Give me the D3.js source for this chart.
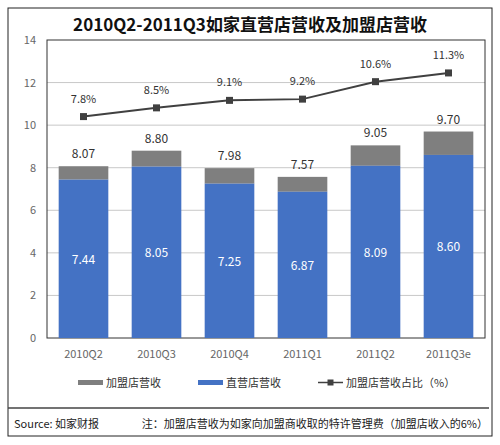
<!DOCTYPE html>
<html><head><meta charset="utf-8">
<script src="https://cdn.jsdelivr.net/npm/d3@7"></script>
<style>body{margin:0;background:#fff}</style>
</head><body><div id="canvas"></div>
<script>
"use strict"

let quarters = ["2010Q2","2010Q3","2010Q4","2011Q1","2011Q2","2011Q3e"];
let directRev = [7.44, 8.05, 7.25, 6.87, 8.09, 8.60];
let totalRev = [8.07, 8.80, 7.98, 7.57, 9.05, 9.70];
let franchiseShare = [7.8, 8.5, 9.1, 9.2, 10.6, 11.3];
let yTicks = [0, 2, 4, 6, 8, 10, 12, 14];

let font = "'Noto Sans CJK SC', 'DejaVu Sans', sans-serif";

let drawing = d3.select("#canvas").append("svg")
    .attr("width", 500).attr("height", 445)
    .style("font-family", font);

/* outer frame */
drawing.append("rect")
    .attr("x", 8).attr("y", 8).attr("width", 484).attr("height", 428)
    .attr("fill", "none").attr("stroke", "#222").attr("stroke-width", 1);

/* title */
drawing.append("text")
    .attr("x", 250).attr("y", 31).attr("text-anchor", "middle")
    .attr("font-size", 17).attr("font-weight", "bold").attr("fill", "#111")
    .text("2010Q2-2011Q3如家直营店营收及加盟店营收");

let x = d3.scaleBand().domain(quarters).range([47, 485]).paddingInner(0.32).paddingOuter(0.16);
let y = d3.scaleLinear().domain([0, 14]).range([338, 40]);
/* hidden secondary axis for the share line */
let y2 = d3.scaleLinear().domain([-9.95, 13.94]).range([338, 40]);

/* gridlines */
drawing.append("g").selectAll("line").data(yTicks.slice(1, -1)).join("line")
    .attr("x1", 47).attr("x2", 485)
    .attr("y1", d => y(d)).attr("y2", d => y(d))
    .attr("stroke", "#c8c8c8");

/* plot border */
drawing.append("rect")
    .attr("x", 47).attr("y", y(14)).attr("width", 438).attr("height", y(0) - y(14))
    .attr("fill", "none").attr("stroke", "#333");

/* y axis labels */
let yAxis = drawing.append("g").attr("transform", "translate(40,0)")
    .call(d3.axisLeft(y).tickValues(yTicks).tickSize(0).tickPadding(4));
yAxis.select(".domain").remove();
yAxis.selectAll("text").attr("font-size", 11).attr("fill", "#666").attr("font-family", font);

/* x axis labels */
let xAxis = drawing.append("g").attr("transform", "translate(0,346)")
    .call(d3.axisBottom(x).tickSize(0).tickPadding(4));
xAxis.select(".domain").remove();
xAxis.selectAll("text").attr("font-size", 11).attr("fill", "#666").attr("font-family", font);

/* franchise part (gray, top) */
drawing.append("g").selectAll("rect").data(quarters).join("rect")
    .attr("x", d => x(d)).attr("width", x.bandwidth())
    .attr("y", (d, i) => y(totalRev[i])).attr("height", (d, i) => y(directRev[i]) - y(totalRev[i]))
    .attr("fill", "#7f7f7f");

/* direct part (blue) */
drawing.append("g").selectAll("rect").data(quarters).join("rect")
    .attr("x", d => x(d)).attr("width", x.bandwidth())
    .attr("y", (d, i) => y(directRev[i])).attr("height", (d, i) => y(0) - y(directRev[i]))
    .attr("fill", "#4472c4");

/* labels */
drawing.append("g").selectAll("text").data(quarters).join("text")
    .attr("x", d => x(d) + x.bandwidth() / 2).attr("y", (d, i) => y(directRev[i] / 2) + 5)
    .attr("text-anchor", "middle").attr("font-size", 12).attr("fill", "#fff")
    .text((d, i) => directRev[i].toFixed(2));

drawing.append("g").selectAll("text").data(quarters).join("text")
    .attr("x", d => x(d) + x.bandwidth() / 2).attr("y", (d, i) => y(totalRev[i]) - 8)
    .attr("text-anchor", "middle").attr("font-size", 12).attr("fill", "#333")
    .text((d, i) => totalRev[i].toFixed(2));

/* share line */
let line = d3.line()
    .x((d, i) => x(quarters[i]) + x.bandwidth() / 2)
    .y(d => y2(d));
drawing.append("path").datum(franchiseShare)
    .attr("d", line).attr("fill", "none").attr("stroke", "#404040").attr("stroke-width", 2);

drawing.append("g").selectAll("rect").data(franchiseShare).join("rect")
    .attr("x", (d, i) => x(quarters[i]) + x.bandwidth() / 2 - 3.5)
    .attr("y", d => y2(d) - 3.5).attr("width", 7).attr("height", 7)
    .attr("fill", "#404040");

drawing.append("g").selectAll("text").data(franchiseShare).join("text")
    .attr("x", (d, i) => x(quarters[i]) + x.bandwidth() / 2)
    .attr("y", d => y2(d) - 14)
    .attr("text-anchor", "middle").attr("font-size", 11).attr("fill", "#333")
    .text(d => d.toFixed(1) + "%");

/* legend */
let legend = drawing.append("g").attr("font-size", 11).attr("fill", "#333");
legend.append("rect").attr("x", 78).attr("y", 380).attr("width", 25).attr("height", 5).attr("fill", "#7f7f7f");
legend.append("text").attr("x", 106).attr("y", 387).text("加盟店营收");
legend.append("rect").attr("x", 198).attr("y", 380).attr("width", 25).attr("height", 5).attr("fill", "#4472c4");
legend.append("text").attr("x", 226).attr("y", 387).text("直营店营收");
legend.append("line").attr("x1", 318).attr("x2", 343).attr("y1", 382.5).attr("y2", 382.5).attr("stroke", "#404040").attr("stroke-width", 1.5);
legend.append("rect").attr("x", 327.5).attr("y", 379.5).attr("width", 6).attr("height", 6).attr("fill", "#404040");
legend.append("text").attr("x", 346).attr("y", 387).text("加盟店营收占比（%）");

/* footer */
drawing.append("line").attr("x1", 8).attr("x2", 489).attr("y1", 408).attr("y2", 408)
    .attr("stroke", "#444").attr("stroke-width", 1.5);
drawing.append("text").attr("x", 14).attr("y", 428).attr("font-size", 11).attr("fill", "#222")
    .text("Source: 如家财报");
drawing.append("text").attr("x", 488).attr("y", 428).attr("text-anchor", "end").attr("font-size", 11).attr("fill", "#222")
    .text("注：加盟店营收为如家向加盟商收取的特许管理费（加盟店收入的6%）");
</script></body></html>
